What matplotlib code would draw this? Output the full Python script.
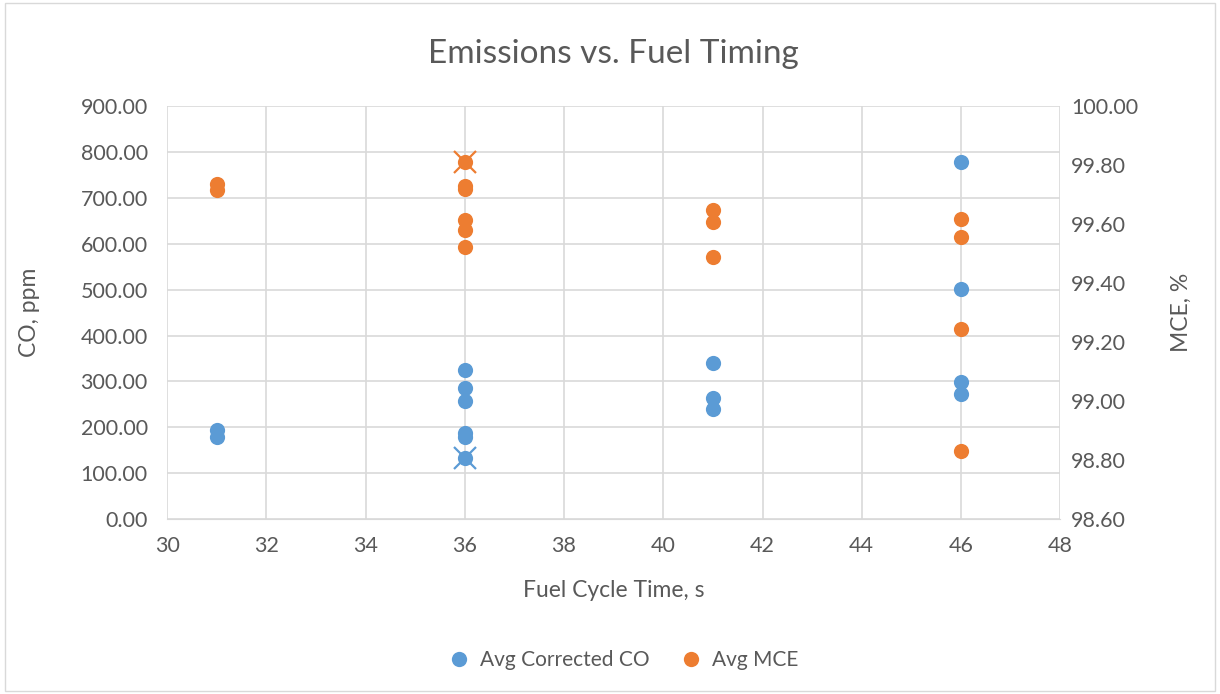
import matplotlib.pyplot as plt
from matplotlib.lines import Line2D
from matplotlib.patches import Rectangle

plt.rcParams['font.family'] = ['Lato', 'DejaVu Sans']

# CO readings (left axis), ppm
co_time = [31, 31, 36, 36, 36, 36, 36, 36, 41, 41, 41, 46, 46, 46, 46]
co_ppm = [194, 180, 325, 286, 258, 187, 180, 133, 340, 263, 239, 778, 501, 298, 272]

# MCE readings (right axis), %
mce_time = [31, 31, 36, 36, 36, 36, 36, 36, 41, 41, 41, 46, 46, 46, 46]
mce_pct = [99.735, 99.717, 99.810, 99.730, 99.720, 99.614, 99.580, 99.522,
           99.647, 99.607, 99.488, 99.617, 99.556, 99.244, 98.831]

# flagged points (drawn with an x on top)
flag_co = (36, 133)
flag_mce = (36, 99.810)

blue = '#5B9BD5'
orange = '#ED7D31'
grey_txt = '#595959'
grid_c = '#D9D9D9'

fig = plt.figure(figsize=(12.2, 6.94), dpi=100)
ax = fig.add_axes([0.137, 0.252, 0.732, 0.595])
ax2 = ax.twinx()

ax.scatter(co_time, co_ppm, s=120, color=blue, zorder=3, linewidths=0)
ax2.scatter(mce_time, mce_pct, s=120, color=orange, zorder=3, linewidths=0)
ax.plot(*flag_co, marker='x', ms=16, mew=1.6, color=blue, zorder=4)
ax2.plot(*flag_mce, marker='x', ms=16, mew=1.6, color=orange, zorder=4)

ax.set_xlim(30, 48)
ax.set_ylim(0, 900)
ax2.set_ylim(98.6, 100.0)
ax.set_xticks(range(30, 49, 2))
ax.set_yticks(range(0, 901, 100))
ax2.set_yticks([98.6 + 0.2 * i for i in range(8)])
ax.yaxis.set_major_formatter(lambda v, p: f'{v:.2f}')
ax2.yaxis.set_major_formatter(lambda v, p: f'{v:.2f}')

ax.grid(True, color=grid_c, lw=1.2)
ax.set_axisbelow(True)
for a in (ax, ax2):
    for s in a.spines.values():
        s.set_visible(False)
    a.tick_params(length=0, labelsize=15.5, colors=grey_txt)
ax.tick_params(axis='y', pad=14)
ax.tick_params(axis='x', pad=12)
ax2.tick_params(axis='y', pad=8)
ax.spines['bottom'].set_visible(True)
ax.spines['bottom'].set_color(grid_c)

ax.set_xlabel('Fuel Cycle Time, s', fontsize=16.5, color=grey_txt)
ax.set_ylabel('CO, ppm', fontsize=16.5, color=grey_txt)
ax2.set_ylabel('MCE, %', fontsize=16.5, color=grey_txt)
ax.xaxis.set_label_coords(0.5, -0.148)
ax.yaxis.set_label_coords(-0.142, 0.5)
ax2.yaxis.set_label_coords(1.124, 0.5)

fig.text(0.503, 0.922, 'Emissions vs. Fuel Timing', ha='center', va='center',
         fontsize=24, color=grey_txt)

handles = [Line2D([], [], ls='', marker='o', ms=11, color=blue, mew=0),
           Line2D([], [], ls='', marker='o', ms=11, color=orange, mew=0)]
fig.legend(handles, ['Avg Corrected CO', 'Avg MCE'], loc='center',
           bbox_to_anchor=(0.507, 0.049), ncol=2, frameon=False, fontsize=15,
           handletextpad=0.0, columnspacing=1.0, labelcolor=grey_txt)

fig.patches.append(Rectangle((0.004, 0.004), 0.992, 0.992, transform=fig.transFigure,
                             fill=False, edgecolor=grid_c, lw=1))

fig.savefig('out.png', dpi=100)
